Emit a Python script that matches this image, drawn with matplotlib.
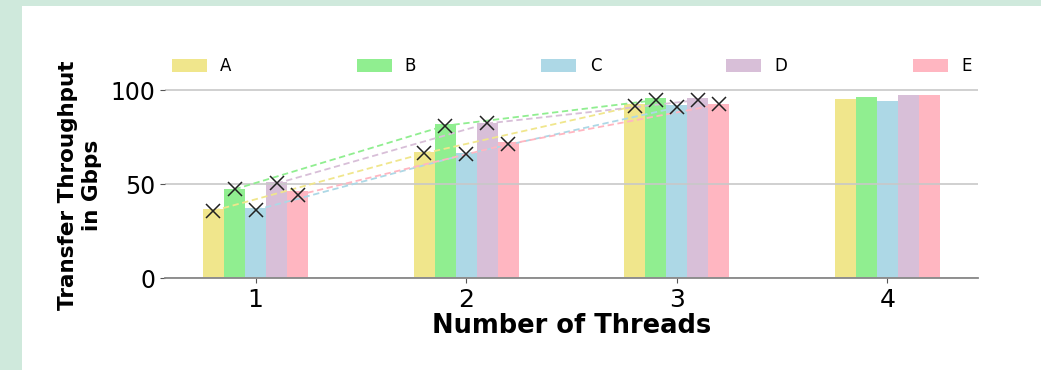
import numpy as np
import matplotlib.pyplot as plt
from matplotlib.patches import Rectangle

threads = np.array([1, 2, 3, 4])
series = ['A', 'B', 'C', 'D', 'E']
colors = ['#f0e68c', '#90ee90', '#add8e6', '#d8bfd8', '#ffb6c1']

# bar heights per series (threads 1..4)
bar_vals = {
    'A': [36.6, 66.9, 92.9, 95.1],
    'B': [47.4, 81.8, 95.6, 96.1],
    'C': [37.2, 66.7, 92.0, 94.3],
    'D': [51.3, 82.6, 95.6, 97.3],
    'E': [46.5, 72.5, 92.9, 97.3],
}
# measured points (threads 1..3)
mark_vals = {
    'A': [35.9, 66.4, 91.5],
    'B': [47.3, 81.1, 94.7],
    'C': [36.3, 66.0, 90.8],
    'D': [50.4, 82.3, 94.7],
    'E': [44.2, 71.3, 92.4],
}

fig = plt.figure(figsize=(10.41, 3.70), dpi=100, facecolor='#cfe9dc')
fig.patches.append(Rectangle((22 / 1041, 0), 1, 1 - 6 / 370, transform=fig.transFigure,
                             facecolor='white', edgecolor='none', zorder=-1))
ax = fig.add_axes([0.1585, 0.2478, 0.7810, 0.534])
ax.set_facecolor('none')

width = 0.1
for i, (s, c) in enumerate(zip(series, colors)):
    x = threads + (i - 2) * width
    ax.bar(x, bar_vals[s], width, color=c, label=s)
    ax.plot(x[:3], mark_vals[s], linestyle='--', color=c, lw=1.3, dashes=(3.5, 2), zorder=3)
    ax.plot(x[:3], mark_vals[s], linestyle='none', marker='x', color='#222222',
            markersize=10, markeredgewidth=1.1, zorder=4)

ax.set_xlim(0.57, 4.43)
ax.set_ylim(0, 105)
ax.set_xticks(threads)
ax.set_yticks([0, 50, 100])
ax.tick_params(axis='y', labelsize=17, color='#555555', length=3.5)
ax.tick_params(axis='x', labelsize=18, color='#555555', length=3.5)
ax.yaxis.grid(True, color='#c8c8c8', lw=1.2)
for side in ['top', 'right', 'left']:
    ax.spines[side].set_visible(False)
ax.spines['bottom'].set_color('#888888')
ax.spines['bottom'].set_linewidth(1.3)

ax.set_xlabel('Number of Threads', fontsize=18.5, fontweight='bold', labelpad=1)
ax.set_ylabel('Transfer Throughput\nin Gbps', fontsize=15.5, fontweight='bold')
ax.yaxis.set_label_coords(-0.078, 0.47)

ax.legend(loc='lower left', bbox_to_anchor=(0.0, 0.995, 1.0, 0.1), mode='expand', ncol=5,
          frameon=False, fontsize=12, handlelength=2.1, handleheight=0.8, borderaxespad=0)

fig.savefig('out.png', dpi=100, facecolor=fig.get_facecolor())
